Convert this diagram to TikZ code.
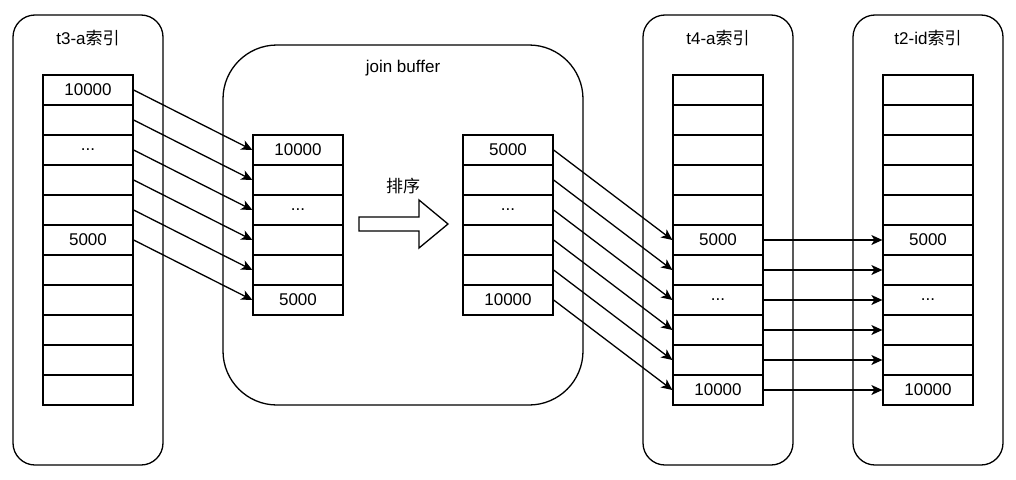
\documentclass[tikz,border=0pt]{standalone}
\usepackage{fontspec}
\setmainfont{Liberation Sans}
\newfontfamily\cjk{Noto Sans CJK SC}
\usetikzlibrary{arrows.meta}

\begin{document}
\begin{tikzpicture}[x=1pt,y=-1pt,line width=1.3pt,
        font=\fontsize{17}{20}\selectfont,
        cell/.style={draw,minimum width=90pt,minimum height=30pt,inner sep=0pt},
        link/.style={-{Stealth[length=11pt,width=10pt,inset=3pt]}}]
        \useasboundingbox (0,0) rectangle (1016,479);

        % outer panels
        \draw[rounded corners=22pt] (13,15) rectangle (163,465);
        \draw[rounded corners=54pt] (223,45) rectangle (583,405);
        \draw[rounded corners=22pt] (643,15) rectangle (793,465);
        \draw[rounded corners=22pt] (853,15) rectangle (1003,465);

        \node (t3title) at (88,38) {t3-a{\cjk 索引}};
        \node (jbtitle) at (403,68) {join buffer};
        \node (t4title) at (718,38) {t4-a{\cjk 索引}};
        \node (t2title) at (928,38) {t2-id{\cjk 索引}};

        % index columns
        \foreach \i in {0,...,10} {
            \node[cell] (a\i) at (88,{90+30*\i}) {};
            \node[cell] (d\i) at (718,{90+30*\i}) {};
            \node[cell] (e\i) at (928,{90+30*\i}) {};
        }
        % join buffer columns
        \foreach \i in {0,...,5} {
            \node[cell] (b\i) at (298,{150+30*\i}) {};
            \node[cell] (c\i) at (508,{150+30*\i}) {};
        }

        \node at (a0) {10000};
        \node at (a2) {...};
        \node at (a5) {5000};
        \node at (b0) {10000};
        \node at (b2) {...};
        \node at (b5) {5000};
        \node at (c0) {5000};
        \node at (c2) {...};
        \node at (c5) {10000};
        \node at (d5) {5000};
        \node at (d7) {...};
        \node at (d10) {10000};
        \node at (e5) {5000};
        \node at (e7) {...};
        \node at (e10) {10000};

        % sort arrow
        \draw (359,217) -- (419,217) -- (419,200) -- (448,224) -- (419,248)
            -- (419,231) -- (359,231) -- cycle;
        \node (sortlabel) at (403,186) {\cjk 排序};

        % connectors
        \foreach \i [evaluate=\i as \j using int(\i+5)] in {0,...,5} {
            \draw[link] (a\i.east) -- (b\i.west);
            \draw[link] (c\i.east) -- (d\j.west);
            \draw[link] (d\j.east) -- (e\j.west);
        }
    \end{tikzpicture}
\end{document}
